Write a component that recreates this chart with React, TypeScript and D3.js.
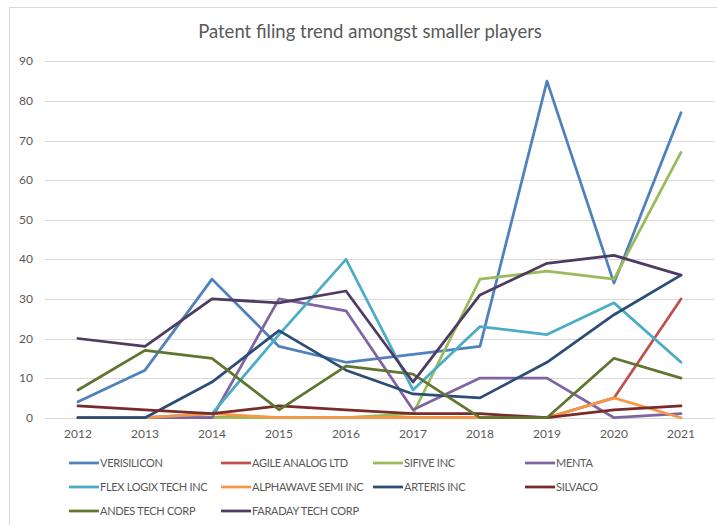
import { useRef, useEffect } from "react";
import * as d3 from "d3";

const YEARS = ["2012", "2013", "2014", "2015", "2016", "2017", "2018", "2019", "2020", "2021"];
const Y_TICKS = [0, 10, 20, 30, 40, 50, 60, 70, 80, 90];

const VERISILICON = [4, 12, 35, 18, 14, 16, 18, 85, 34, 77];
const AGILE_ANALOG = [0, 0, 0, 0, 0, 0, 0, 0, 5, 30];
const SIFIVE = [0, 0, 0, 0, 0, 1, 35, 37, 35, 67];
const MENTA = [0, 0, 0, 30, 27, 2, 10, 10, 0, 1];
const FLEX_LOGIX = [0, 0, 1, 21, 40, 7, 23, 21, 29, 14];
const ALPHAWAVE = [0, 0, 1, 0, 0, 0, 0, 0, 5, 0];
const ARTERIS = [0, 0, 9, 22, 12, 6, 5, 14, 26, 36];
const SILVACO = [3, 2, 1, 3, 2, 1, 1, 0, 2, 3];
const ANDES = [7, 17, 15, 2, 13, 11, 0, 0, 15, 10];
const FARADAY = [20, 18, 30, 29, 32, 9, 31, 39, 41, 36];

const SERIES = [
  { name: "VERISILICON", values: VERISILICON, color: "#4F81BD" },
  { name: "AGILE ANALOG LTD", values: AGILE_ANALOG, color: "#C0504D" },
  { name: "SIFIVE INC", values: SIFIVE, color: "#9BBB59" },
  { name: "MENTA", values: MENTA, color: "#8064A2" },
  { name: "FLEX LOGIX TECH INC", values: FLEX_LOGIX, color: "#4BACC6" },
  { name: "ALPHAWAVE SEMI INC", values: ALPHAWAVE, color: "#F79646" },
  { name: "ARTERIS INC", values: ARTERIS, color: "#2C4D75" },
  { name: "SILVACO", values: SILVACO, color: "#772C2A" },
  { name: "ANDES TECH CORP", values: ANDES, color: "#5F7530" },
  { name: "FARADAY TECH CORP", values: FARADAY, color: "#4D3B62" },
];

const W = 717;
const H = 525;
const FONT = "Lato, 'Open Sans', sans-serif";
const TEXT = "#595959";

export default function App() {
  const svgRef = useRef<SVGSVGElement>(null);

  useEffect(() => {
    if (!svgRef.current) return;
    const svg = d3.select(svgRef.current);
    svg.selectAll("*").remove();

    // chart area border (only left/top visible in crop)
    svg.append("rect")
      .attr("x", 9.5).attr("y", 7.5)
      .attr("width", W + 20).attr("height", H + 20)
      .attr("fill", "#fff")
      .attr("stroke", "#D9D9D9");

    const plot = { left: 44.5, right: 714.5, top: 61.3, bottom: 417.7 };

    const x = d3.scalePoint<string>()
      .domain(YEARS)
      .range([plot.left, plot.right])
      .padding(0.5);
    const y = d3.scaleLinear().domain([0, 90]).range([plot.bottom, plot.top]);

    // gridlines
    svg.append("g")
      .selectAll("line")
      .data(Y_TICKS)
      .join("line")
      .attr("x1", plot.left).attr("x2", plot.right)
      .attr("y1", (d) => Math.round(y(d)) + 0.5)
      .attr("y2", (d) => Math.round(y(d)) + 0.5)
      .attr("stroke", "#D9D9D9")
      .attr("stroke-width", 1);

    // y labels
    svg.append("g")
      .selectAll("text")
      .data(Y_TICKS)
      .join("text")
      .attr("x", 33)
      .attr("y", (d) => y(d) + 4)
      .attr("text-anchor", "end")
      .attr("font-family", FONT)
      .attr("font-size", 12)
      .attr("fill", TEXT)
      .text((d) => String(d));

    // x labels
    svg.append("g")
      .selectAll("text")
      .data(YEARS)
      .join("text")
      .attr("x", (d) => x(d) ?? 0)
      .attr("y", 438)
      .attr("text-anchor", "middle")
      .attr("font-family", FONT)
      .attr("font-size", 12)
      .attr("fill", TEXT)
      .text((d) => d);

    // lines
    const line = d3.line<number>()
      .x((_, i) => x(YEARS[i]) ?? 0)
      .y((d) => y(d));

    SERIES.forEach((s) => {
      svg.append("path")
        .attr("d", line(s.values) ?? "")
        .attr("fill", "none")
        .attr("stroke", s.color)
        .attr("stroke-width", 2.75)
        .attr("stroke-linejoin", "round")
        .attr("stroke-linecap", "round");
    });

    // title
    svg.append("text")
      .attr("x", 370)
      .attr("y", 38)
      .attr("text-anchor", "middle")
      .attr("font-family", FONT)
      .attr("font-size", 18.5)
      .attr("fill", TEXT)
      .text("Patent filing trend amongst smaller players");

    // legend
    const colX = [69, 221, 373, 525];
    const rowY = [463, 487, 511];
    SERIES.forEach((s, i) => {
      const cx = colX[i % 4];
      const cy = rowY[Math.floor(i / 4)];
      svg.append("line")
        .attr("x1", cx).attr("x2", cx + 30)
        .attr("y1", cy).attr("y2", cy)
        .attr("stroke", s.color)
        .attr("stroke-width", 2.75);
      svg.append("text")
        .attr("x", cx + 31)
        .attr("y", cy + 4)
        .attr("font-family", FONT)
        .attr("font-size", 11)
        .attr("letter-spacing", -0.3)
        .attr("fill", TEXT)
        .text(s.name);
    });
  }, []);

  return (
    <svg
      ref={svgRef}
      width={W}
      height={H}
      style={{ position: "absolute", top: 0, left: 0, background: "#fff" }}
    />
  );
}
